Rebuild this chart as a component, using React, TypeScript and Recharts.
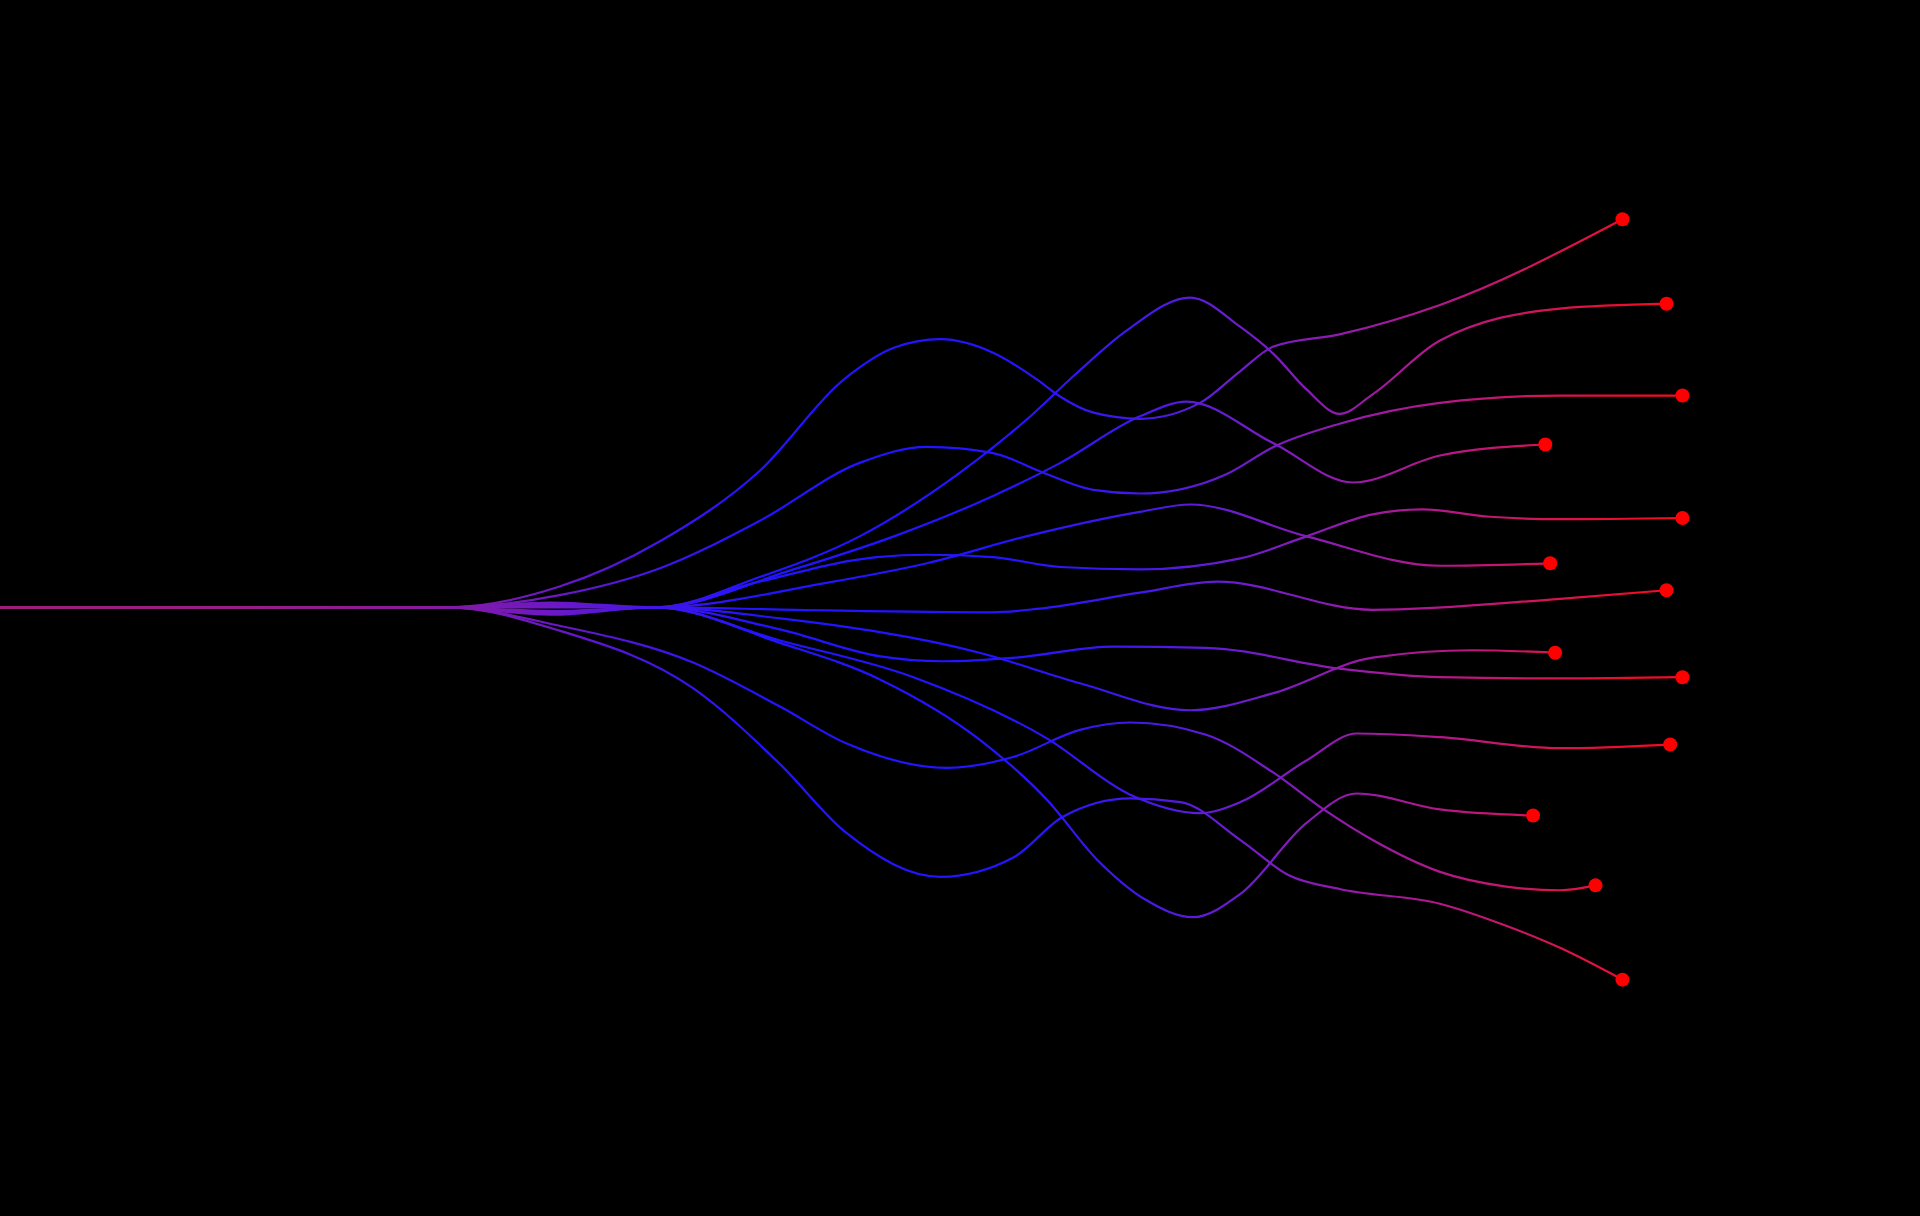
import { LineChart, Line, XAxis, YAxis } from 'recharts'

// x runs left → right, y is the offset above (+) / below (-) the trunk
type Pt = [number, number]

const branch1: Pt[] = [[0, 0], [365, 0], [457, 17], [539, 54], [621, 112], [689, 186], [730, 212], [768, 219], [811, 208], [847, 186], [866, 172], [893, 159], [931, 154], [980, 167], [1013, 193], [1040, 213], [1094, 223], [1176, 247], [1325, 317]]
const branch2: Pt[] = [[0, 0], [365, 0], [450, 4], [535, 0], [621, 25], [702, 58], [784, 110], [838, 153], [879, 191], [920, 226], [972, 253], [1013, 229], [1040, 207], [1067, 178], [1094, 158], [1121, 174], [1176, 218], [1274, 244], [1361, 248]]
const branch3: Pt[] = [[0, 0], [365, 0], [457, 10], [539, 32], [621, 71], [702, 118], [757, 131], [811, 126], [852, 110], [893, 96], [931, 93], [1002, 109], [1040, 131], [1094, 150], [1176, 167], [1274, 173], [1374, 173]]
const branch4: Pt[] = [[0, 0], [365, 0], [450, 3], [535, 0], [648, 31], [730, 58], [811, 91], [866, 118], [931, 156], [969, 168], [1040, 134], [1105, 102], [1176, 124], [1262, 133]]
const branch5: Pt[] = [[0, 0], [365, 0], [450, 2], [535, 0], [675, 20], [757, 36], [838, 58], [931, 78], [972, 84], [1067, 58], [1176, 34], [1266, 36]]
const branch6: Pt[] = [[0, 0], [365, 0], [450, 1], [535, 0], [620, 21], [716, 41], [757, 43], [811, 41], [866, 33], [931, 31], [1013, 40], [1067, 58], [1121, 76], [1162, 80], [1217, 74], [1274, 72], [1374, 73]]
const branch7: Pt[] = [[0, 0], [365, 0], [450, 0], [535, 0], [650, -2], [811, -4], [849, -1], [931, 12], [994, 21], [1121, -2], [1274, 7], [1361, 14]]
const branch8: Pt[] = [[0, 0], [365, 0], [450, -3], [535, 0], [637, -18], [719, -40], [770, -44], [830, -41], [909, -32], [985, -33], [1094, -50], [1176, -57], [1274, -58], [1374, -57]]
const branch9: Pt[] = [[0, 0], [365, 0], [450, -4], [535, 0], [637, -9], [800, -37], [882, -62], [972, -84], [1040, -70], [1121, -41], [1203, -35], [1270, -37]]
const branch10: Pt[] = [[0, 0], [365, 0], [457, -15], [566, -45], [637, -81], [691, -111], [773, -131], [828, -122], [882, -100], [923, -94], [985, -104], [1040, -135], [1081, -165], [1121, -190], [1176, -216], [1230, -228], [1274, -231], [1303, -227]]
const branch11: Pt[] = [[0, 0], [365, 0], [450, -5], [535, 0], [637, -27], [746, -57], [855, -107], [923, -153], [980, -168], [1013, -159], [1067, -125], [1108, -103], [1176, -106], [1274, -115], [1364, -112]]
const branch12: Pt[] = [[0, 0], [365, 0], [450, -6], [535, 0], [637, -29], [719, -59], [800, -108], [855, -157], [896, -206], [936, -239], [974, -253], [1013, -234], [1067, -176], [1108, -152], [1176, -165], [1252, -170]]
const branch13: Pt[] = [[0, 0], [365, 0], [457, -19], [566, -66], [637, -128], [691, -184], [768, -220], [828, -204], [868, -171], [923, -156], [964, -159], [1013, -190], [1053, -219], [1094, -230], [1176, -242], [1230, -260], [1274, -278], [1325, -304]]

const BRANCHES = [branch1, branch2, branch3, branch4, branch5, branch6, branch7, branch8, branch9, branch10, branch11, branch12, branch13]

const X_DOMAIN: [number, number] = [0, 1568]
const Y_DOMAIN: [number, number] = [-497, 496]

const WIDTH = 1920
const HEIGHT = 1216

// colour along x (px): plum trunk, blue middle, red tips
const GRADIENT_STOPS: [number, string][] = [
  [0, '#9e1f78'],
  [250, '#971d86'],
  [420, '#8a1a9c'],
  [560, '#6a18c8'],
  [680, '#3a14ee'],
  [760, '#2214ff'],
  [1000, '#2414ff'],
  [1080, '#3416f4'],
  [1140, '#4418ea'],
  [1200, '#5e1cd8'],
  [1273, '#7a1cc4'],
  [1360, '#9a1aa8'],
  [1440, '#b3188a'],
  [1560, '#d81450'],
  [1640, '#f00c28'],
  [1920, '#ff0a10'],
]

function endDot(lastIndex: number) {
  return (props: any) => {
    const { cx, cy, index } = props
    if (index !== lastIndex) return <g key={`d-${index}`} />
    return <circle key={`d-${index}`} cx={cx} cy={cy} r={7} fill="#ff0000" stroke="none" />
  }
}

export default function App() {
  return (
    <div style={{ width: WIDTH, height: HEIGHT, background: '#000' }}>
      <style>{'body{margin:0;background:#000}'}</style>
      <LineChart width={WIDTH} height={HEIGHT} margin={{ top: 0, right: 0, bottom: 0, left: 0 }}>
        <defs>
          <linearGradient id="branchGrad" gradientUnits="userSpaceOnUse" x1={0} y1={0} x2={WIDTH} y2={0}>
            {GRADIENT_STOPS.map(([px, c]) => (
              <stop key={px} offset={px / WIDTH} stopColor={c} />
            ))}
          </linearGradient>
        </defs>
        <XAxis type="number" dataKey="x" domain={X_DOMAIN} allowDataOverflow hide />
        <YAxis type="number" dataKey="y" domain={Y_DOMAIN} allowDataOverflow hide />
        {BRANCHES.map((b, i) => (
          <Line
            key={i}
            data={b.map(([x, y]) => ({ x, y }))}
            dataKey="y"
            type="monotone"
            stroke="url(#branchGrad)"
            strokeWidth={2.2}
            dot={endDot(b.length - 1)}
            activeDot={false}
            isAnimationActive={false}
          />
        ))}
      </LineChart>
    </div>
  )
}
